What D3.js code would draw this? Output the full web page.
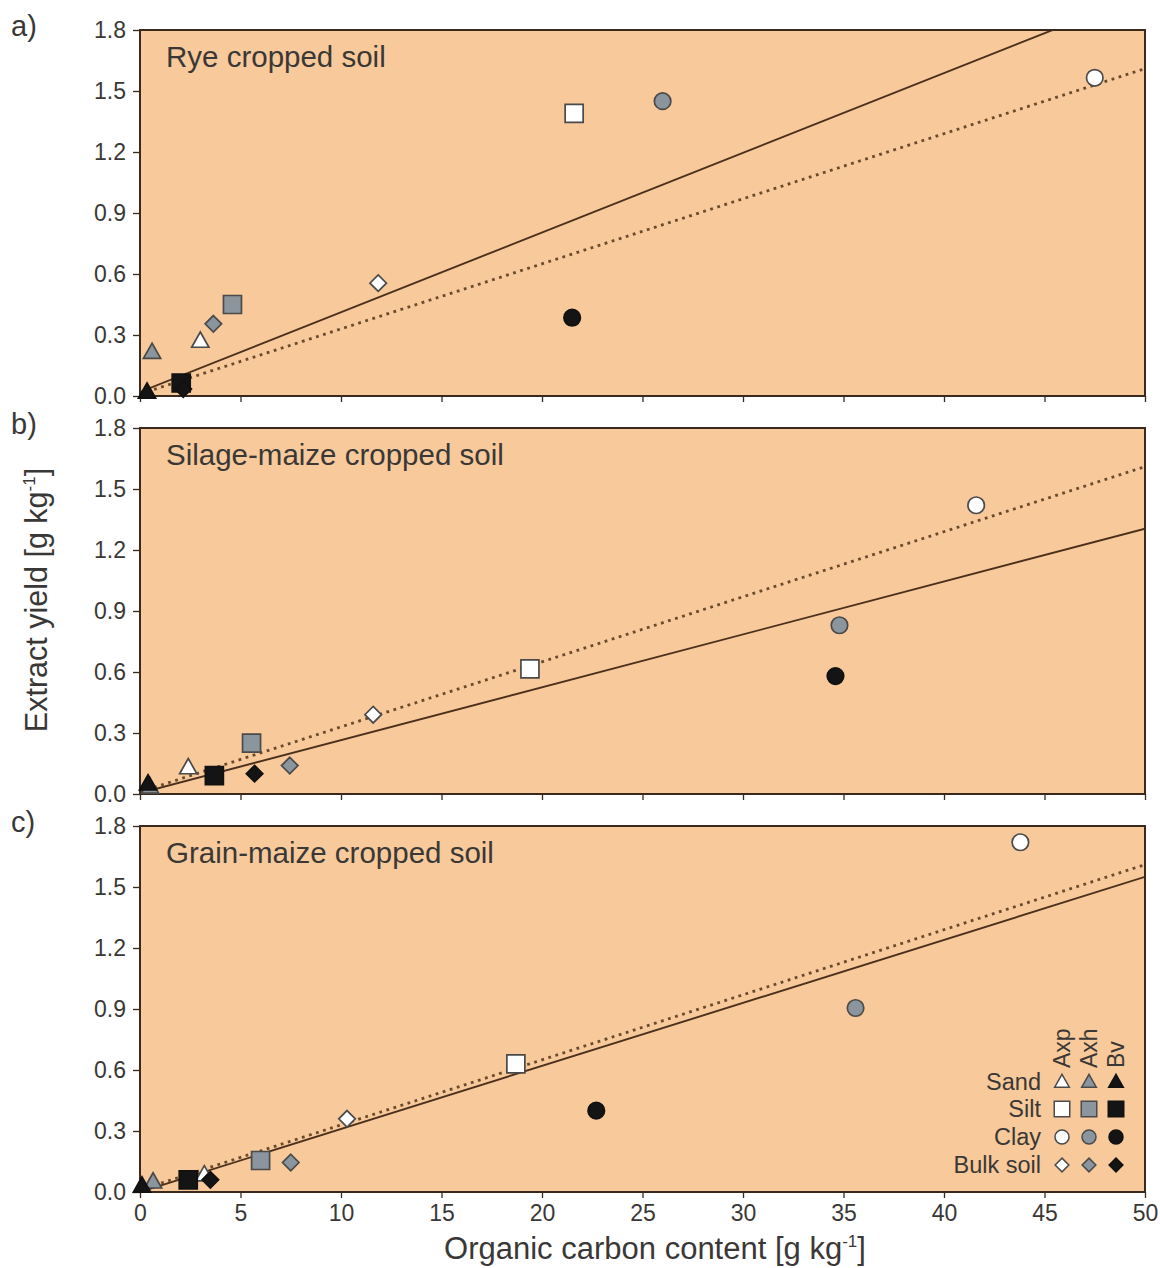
<!DOCTYPE html>
<html>
<head>
<meta charset="utf-8">
<script src="https://cdn.jsdelivr.net/npm/d3@7"></script>
<style>
  html, body { margin: 0; padding: 0; background: #ffffff; }
  svg { display: block; font-family: "Liberation Sans", Arial, sans-serif; }
</style>
</head>
<body>
<svg id="chart" width="1160" height="1268"></svg>
<script>
// Particle-size fractions (rows) and horizons (columns)
const fractions = ["Sand", "Silt", "Clay", "Bulk soil"];
const horizons = ["Axp", "Axh", "Bv"];
const shapes = ["triangle", "square", "circle", "diamond"];
const horizonFill = ["#ffffff", "#8b959d", "#141414"];

const panelLetters = ["a)", "b)", "c)"];
const panelTitles = ["Rye cropped soil", "Silage-maize cropped soil", "Grain-maize cropped soil"];

const xTicks = [0, 5, 10, 15, 20, 25, 30, 35, 40, 45, 50];
const yTicks = [0.0, 0.3, 0.6, 0.9, 1.2, 1.5, 1.8];

// Point order per panel: Sand Axp, Axh, Bv; Silt Axp, Axh, Bv; Clay Axp, Axh, Bv; Bulk Axp, Axh, Bv
const ryeCarbon   = [3.0, 0.6, 0.35,  21.6, 4.6, 2.05,  47.5, 26.0, 21.5,  11.85, 3.65, 2.15];
const ryeYield    = [0.27, 0.215, 0.02,  1.39, 0.45, 0.064,  1.565, 1.45, 0.385,  0.555, 0.355, 0.034];

const silageCarbon = [2.4, 0.5, 0.4,  19.4, 5.55, 3.7,  41.6, 34.8, 34.6,  11.6, 7.45, 5.7];
const silageYield  = [0.13, 0.035, 0.05,  0.615, 0.25, 0.09,  1.42, 0.83, 0.58,  0.39, 0.14, 0.10];

const grainCarbon = [3.2, 0.65, 0.1,  18.7, 6.0, 2.4,  43.8, 35.6, 22.7,  10.3, 7.5, 3.5];
const grainYield  = [0.085, 0.05, 0.03,  0.63, 0.155, 0.06,  1.72, 0.905, 0.40,  0.36, 0.145, 0.06];

// Linear fits: panel-specific (solid) and pooled over all soils (dotted)
const solidSlope     = [0.0392, 0.026, 0.031];
const solidIntercept = [0.02, 0.005, 0.0];
const dottedSlope     = [0.032, 0.032, 0.032];
const dottedIntercept = [0.01, 0.01, 0.01];

const carbonSets = [ryeCarbon, silageCarbon, grainCarbon];
const yieldSets  = [ryeYield, silageYield, grainYield];

const svg = d3.select("#chart");
const textCol = "#3a3836";
const frameCol = "#3a2a1e";
const bgCol = "#f8c99b";
const lineCol = "#4b301c";
const fontFam = "'Liberation Sans', Arial, sans-serif";

const left = 140, right = 1145;
const panelTop = [30, 428, 826];
const panelH = 366;

const x = d3.scaleLinear().domain([0, 50]).range([left, right]);

function symbolPath(shape, s) {
  const h = s / 2;
  switch (shape) {
    case "triangle": {
      const r = s * 0.55;
      return `M0,${-r} L${r * 0.95},${r * 0.68} L${-r * 0.95},${r * 0.68} Z`;
    }
    case "square":
      return `M${-h},${-h} H${h} V${h} H${-h} Z`;
    case "circle":
      return d3.symbol(d3.symbolCircle, Math.PI * h * h)();
    case "diamond": {
      const r = s * 0.55;
      return `M0,${-r} L${r},0 L0,${r} L${-r},0 Z`;
    }
  }
}
const markerSize = { triangle: 16.5, square: 18, circle: 16.5, diamond: 15 };
const legendSize = { triangle: 14, square: 15.5, circle: 14, diamond: 12.5 };

panelTop.forEach((top, p) => {
  const y = d3.scaleLinear().domain([0, 1.8]).range([top + panelH, top]);
  const g = svg.append("g");

  g.append("rect")
    .attr("x", left).attr("y", top)
    .attr("width", right - left).attr("height", panelH)
    .attr("fill", bgCol);

  const clipId = "clip" + p;
  g.append("clipPath").attr("id", clipId)
    .append("rect").attr("x", left).attr("y", top)
    .attr("width", right - left).attr("height", panelH);

  // fitted lines
  const fitLine = (slope, icpt) => d3.line()
    .x(d => x(d)).y(d => y(icpt + slope * d))([0, 50]);

  g.append("path")
    .attr("clip-path", `url(#${clipId})`)
    .attr("d", fitLine(dottedSlope[p], dottedIntercept[p]))
    .attr("fill", "none").attr("stroke", "#6a4a2c")
    .attr("stroke-width", 2.8).attr("stroke-dasharray", "2.8,4.6");
  g.append("path")
    .attr("clip-path", `url(#${clipId})`)
    .attr("d", fitLine(solidSlope[p], solidIntercept[p]))
    .attr("fill", "none").attr("stroke", lineCol)
    .attr("stroke-width", 1.9);

  // axes
  const yAxis = d3.axisLeft(y).tickValues(yTicks).tickFormat(d3.format(".1f"))
    .tickSize(7).tickPadding(7);
  const ya = g.append("g").attr("transform", `translate(${left},0)`).call(yAxis);
  ya.select(".domain").remove();
  ya.selectAll("line").attr("stroke", frameCol).attr("stroke-width", 1.3);
  ya.selectAll("text").attr("fill", textCol).attr("font-size", 23)
    .attr("font-family", fontFam);

  const xAxis = d3.axisBottom(x).tickValues(xTicks).tickSize(6).tickPadding(7)
    .tickFormat(p === 2 ? d3.format("d") : () => "");
  const xa = g.append("g").attr("transform", `translate(0,${top + panelH})`).call(xAxis);
  xa.select(".domain").remove();
  xa.selectAll("line").attr("stroke", frameCol).attr("stroke-width", 1.3);
  xa.selectAll("text").attr("fill", textCol).attr("font-size", 23)
    .attr("font-family", fontFam);

  // frame
  g.append("rect")
    .attr("x", left).attr("y", top)
    .attr("width", right - left).attr("height", panelH)
    .attr("fill", "none").attr("stroke", frameCol).attr("stroke-width", 2);

  // data points
  const pts = carbonSets[p].map((c, i) => ({
    c, v: yieldSets[p][i],
    shape: shapes[Math.floor(i / 3)],
    h: i % 3
  }));
  g.append("g")
    .selectAll("path").data(pts).join("path")
    .attr("transform", d => `translate(${x(d.c)},${y(d.v)})`)
    .attr("d", d => symbolPath(d.shape, markerSize[d.shape]))
    .attr("fill", d => horizonFill[d.h])
    .attr("stroke", d => d.h === 2 ? "#111" : "#4a4a4a")
    .attr("stroke-width", 1.7);

  // panel title and letter
  g.append("text").attr("x", 166).attr("y", top + 37)
    .attr("font-size", 29.5).attr("fill", textCol).text(panelTitles[p]);
  g.append("text").attr("x", 11).attr("y", top + 6)
    .attr("font-size", 29).attr("fill", textCol).text(panelLetters[p]);
});

// Legend inside panel c
const legColX = [1062, 1089, 1116];
const legRowY = [1082, 1109, 1137, 1165];
const leg = svg.append("g");
horizons.forEach((h, j) => {
  leg.append("text")
    .attr("transform", `translate(${legColX[j] + 8},1068) rotate(-90)`)
    .attr("font-size", 23).attr("fill", textCol).text(h);
});
fractions.forEach((f, i) => {
  leg.append("text").attr("x", 1041).attr("y", legRowY[i] + 8)
    .attr("text-anchor", "end").attr("font-size", 23.5).attr("fill", textCol).text(f);
  horizons.forEach((h, j) => {
    leg.append("path")
      .attr("transform", `translate(${legColX[j]},${legRowY[i]})`)
      .attr("d", symbolPath(shapes[i], legendSize[shapes[i]]))
      .attr("fill", horizonFill[j])
      .attr("stroke", j === 2 ? "#111" : "#4a4a4a")
      .attr("stroke-width", 1.5);
  });
});

// Axis titles
const xl = svg.append("text").attr("x", 655).attr("y", 1259)
  .attr("text-anchor", "middle").attr("font-size", 31).attr("fill", textCol);
xl.append("tspan").text("Organic carbon content [g kg");
xl.append("tspan").attr("font-size", 17).attr("dy", -12).text("-1");
xl.append("tspan").attr("dy", 12).text("]");

const yl = svg.append("text")
  .attr("transform", "translate(47,600) rotate(-90)")
  .attr("text-anchor", "middle").attr("font-size", 30.5).attr("fill", textCol);
yl.append("tspan").text("Extract yield [g kg");
yl.append("tspan").attr("font-size", 17).attr("dy", -12).text("-1");
yl.append("tspan").attr("dy", 12).text("]");
</script>
</body>
</html>
